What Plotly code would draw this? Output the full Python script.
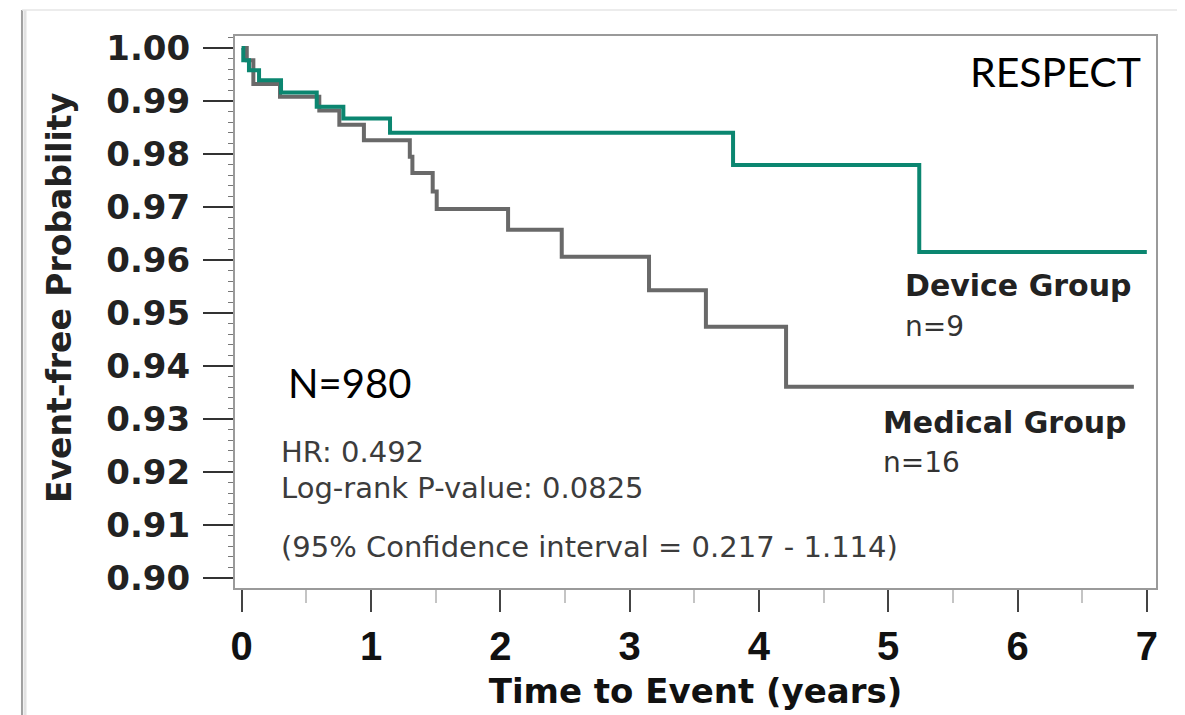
import plotly.graph_objects as go

# Kaplan-Meier steps (years, event-free probability)
device_t = [0, 0.012, 0.056, 0.134, 0.304, 0.58, 0.786, 1.147, 3.80, 5.24, 7.0]
device_s = [1.0, 0.9977, 0.9958, 0.9939, 0.9916, 0.9889, 0.9867, 0.9840, 0.9779, 0.9615, 0.9615]

medical_t = [0, 0.039, 0.09, 0.296, 0.60, 0.755, 0.945, 1.30, 1.32, 1.477, 1.508,
             2.06, 2.475, 3.15, 3.59, 4.21, 6.90]
medical_s = [1.0, 0.9977, 0.9932, 0.9908, 0.9882, 0.9855, 0.9826, 0.9795, 0.9764, 0.9729, 0.9696,
             0.9657, 0.9606, 0.9543, 0.9474, 0.9361, 0.9361]

x_ticks = [0, 1, 2, 3, 4, 5, 6, 7]
y_ticks = [0.90, 0.91, 0.92, 0.93, 0.94, 0.95, 0.96, 0.97, 0.98, 0.99, 1.00]

GREEN = "#0b8670"
GRAY = "#696969"
SANS = "DejaVu Sans"
ARIAL = "Liberation Sans, Arial, sans-serif"
CAL = "Lato, Open Sans, sans-serif"

fig = go.Figure()
fig.add_trace(go.Scatter(x=medical_t, y=medical_s, mode="lines", line_shape="hv",
                         line=dict(color=GRAY, width=4), name="Medical Group"))
fig.add_trace(go.Scatter(x=device_t, y=device_s, mode="lines", line_shape="hv",
                         line=dict(color=GREEN, width=4), name="Device Group"))

stat_font = dict(family=SANS, size=29, color="#3c3c3c")
notes = [
    ("RESPECT", 6.97, 0.9955, "right", dict(family=CAL, size=41, color="#000")),
    ("N=980", 0.343, 0.9368, "left", dict(family=CAL, size=40, color="#000")),
    ("HR: 0.492", 0.288, 0.9238, "left", stat_font),
    ("Log-rank P-value: 0.0825", 0.288, 0.9170, "left", stat_font),
    ("(95% Confidence interval = 0.217 - 1.114)", 0.288, 0.9059, "left", stat_font),
    ("Device Group", 5.115, 0.9551, "left", dict(family=SANS, size=30, color="#222", weight="bold")),
    ("n=9", 5.115, 0.9474, "left", dict(family=SANS, size=28, color="#333")),
    ("Medical Group", 4.945, 0.9293, "left", dict(family=SANS, size=30, color="#222", weight="bold")),
    ("n=16", 4.945, 0.9217, "left", dict(family=SANS, size=28, color="#333")),
]
for text, x, y, anchor, font in notes:
    fig.add_annotation(x=x, y=y, xref="x", yref="y", text=text, showarrow=False,
                       xanchor=anchor, yanchor="middle", font=font)

# y axis title, placed as in the original (slightly above the plot centre)
fig.add_annotation(x=-0.19, y=0.5254, xref="paper", yref="paper", text="Event-free Probability",
                   textangle=-90, showarrow=False, xanchor="center", yanchor="middle",
                   font=dict(family=SANS, size=33, color="#222", weight="bold"))

# page border of the original picture
fig.add_shape(type="line", xref="paper", yref="paper", x0=-0.2313, x1=-0.2313, y0=1.047, y1=-0.3,
              line=dict(color="#a0a0a0", width=2))
fig.add_shape(type="line", xref="paper", yref="paper", x0=-0.2280, x1=-0.2280, y0=1.047, y1=-0.3,
              line=dict(color="#e2e2e2", width=3))
fig.add_shape(type="line", xref="paper", yref="paper", x0=-0.2313, x1=1.04, y0=1.047, y1=1.047,
              line=dict(color="#e6e6e6", width=1.5))

fig.update_layout(
    width=1177, height=707,
    margin=dict(l=227, r=29, t=28, b=127),
    plot_bgcolor="white", paper_bgcolor="white",
    showlegend=False,
)
fig.update_xaxes(
    range=[-0.052, 7.071], tickvals=x_ticks, ticks="outside", ticklen=22, tickwidth=2,
    tickcolor="#444", showgrid=False, zeroline=False,
    showline=True, mirror=True, linecolor="#9a9a9a", linewidth=2,
    minor=dict(dtick=0.5, tick0=0, ticks="outside", ticklen=13, tickwidth=2, tickcolor="#c4c4c4"),
    tickfont=dict(family=ARIAL, size=40, color="#111", weight="bold"),
    title=dict(text="Time to Event (years)", standoff=12,
               font=dict(family=SANS, size=34, color="#111", weight="bold")),
)
fig.update_yaxes(
    range=[0.89811, 1.00226], tickvals=y_ticks, tickformat=".2f", ticks="outside",
    ticklen=30, tickwidth=2, tickcolor="#333", showgrid=False, zeroline=False,
    showline=True, mirror=True, linecolor="#9a9a9a", linewidth=2,
    minor=dict(dtick=0.002, tick0=0.9, ticks="outside", ticklen=5, tickwidth=1, tickcolor="#777"),
    tickfont=dict(family=SANS, size=34, color="#222", weight="bold"),
    ticklabelstandoff=6,
)

fig.write_html("out.html")
